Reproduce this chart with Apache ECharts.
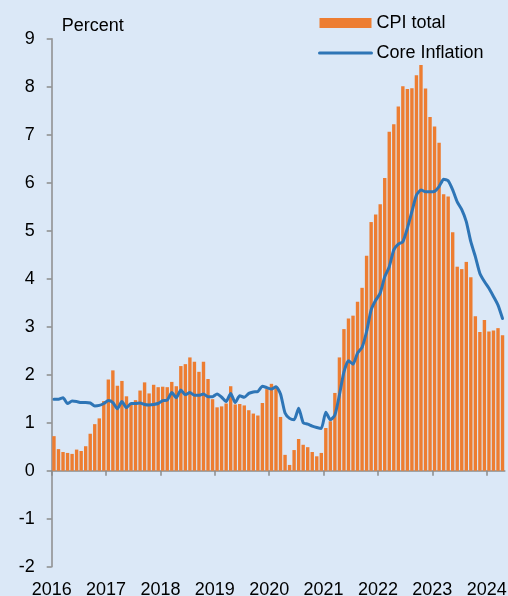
<!DOCTYPE html>
<html>
<head>
<meta charset="utf-8">
<script src="https://cdn.jsdelivr.net/npm/echarts@6/dist/echarts.min.js"></script>
<style>
html,body{margin:0;padding:0;background:#dbe8f7;}
#chart{width:508px;height:596px;}
</style>
</head>
<body>
<div id="chart"></div>
<script>
// Monthly data, Jan 2016 - Apr 2024
var startYear = 2016;
var yearLabels = ['2016','2017','2018','2019','2020','2021','2022','2023','2024'];
var seriesNames = ['CPI total', 'Core Inflation'];
var cpiTotal = [
  0.72, 0.45, 0.39, 0.37, 0.35, 0.44, 0.41, 0.51, 0.77, 0.97, 1.09, 1.45,
  1.90, 2.09, 1.77, 1.87, 1.55, 1.40, 1.47, 1.67, 1.84, 1.61, 1.79, 1.74,
  1.75, 1.74, 1.85, 1.76, 2.18, 2.22, 2.36, 2.27, 2.06, 2.27, 1.91, 1.49,
  1.32, 1.34, 1.40, 1.76, 1.38, 1.39, 1.36, 1.26, 1.19, 1.15, 1.41, 1.70,
  1.81, 1.75, 1.12, 0.33, 0.12, 0.43, 0.66, 0.54, 0.49, 0.39, 0.30, 0.37,
  0.89, 1.03, 1.62, 2.36, 2.95, 3.17, 3.23, 3.52, 3.81, 4.48, 5.18, 5.34,
  5.55, 6.10, 7.06, 7.22, 7.59, 8.01, 7.95, 7.97, 8.24, 8.45, 7.96, 7.37,
  7.17, 6.83, 5.76, 5.71, 4.97, 4.25, 4.20, 4.35, 4.03, 3.22, 2.89, 3.14,
  2.90, 2.92, 2.97, 2.82
];
var coreInflation = [
  1.49, 1.49, 1.52, 1.40, 1.45, 1.44, 1.42, 1.42, 1.41, 1.35, 1.36, 1.40,
  1.46, 1.42, 1.29, 1.44, 1.31, 1.40, 1.40, 1.41, 1.38, 1.37, 1.38, 1.40,
  1.46, 1.47, 1.63, 1.52, 1.68, 1.58, 1.63, 1.57, 1.57, 1.60, 1.54, 1.54,
  1.60, 1.53, 1.44, 1.61, 1.42, 1.56, 1.53, 1.61, 1.64, 1.65, 1.76, 1.73,
  1.70, 1.75, 1.60, 1.20, 1.09, 1.06, 1.30, 1.00, 0.97, 0.93, 0.90, 0.88,
  1.22, 1.06, 1.16, 1.58, 2.06, 2.29, 2.22, 2.45, 2.57, 2.90, 3.35, 3.55,
  3.70, 4.04, 4.25, 4.60, 4.72, 4.77, 5.05, 5.40, 5.74, 5.85, 5.81, 5.81,
  5.82, 5.92, 6.07, 6.04, 5.85, 5.60, 5.44, 5.19, 4.77, 4.46, 4.11, 3.94,
  3.80, 3.63, 3.45, 3.17
];
var yTicks = [-2,-1,0,1,2,3,4,5,6,7,8,9];

var nMonths = cpiTotal.length;
function monthX(i){ return startYear + (i + 0.5) / 12; }
var cpiData = cpiTotal.map(function(v,i){ return [monthX(i), v]; });
var coreData = coreInflation.map(function(v,i){ return [monthX(i), v]; });
var yearVals = yearLabels.map(function(s){ return +s; });
var xMax = startYear + nMonths / 12;

var axisColor = '#8c8c8c';
var font = 'Liberation Sans, Arial, sans-serif';

var chart = echarts.init(document.getElementById('chart'), null, {renderer:'canvas'});
chart.setOption({
  backgroundColor: '#dbe8f7',
  animation: false,
  textStyle: {fontFamily: font},
  grid: {left: 51.7, right: 3.2, top: 38.7, bottom: 29.3, outerBoundsMode: 'none'},
  legend: {
    orient: 'vertical', left: 313, top: 9,
    itemWidth: 52, itemHeight: 10, itemGap: 12,
    textStyle: {fontSize: 18, color: '#000', fontFamily: font},
    data: [
      {name: seriesNames[0], icon: 'rect'},
      {name: seriesNames[1], itemStyle: {opacity: 0}, lineStyle: {width: 3, color: '#2E75B6'}}
    ]
  },
  xAxis: [{
    type: 'value', min: startYear, max: xMax, position: 'bottom',
    axisLine: {show: false, onZero: false},
    axisTick: {show: false},
    splitLine: {show: false},
    axisLabel: {customValues: yearVals, fontSize: 18, color: '#000', margin: 14,
      formatter: function(v){ return String(Math.round(v)); }}
  }, {
    type: 'value', min: startYear, max: xMax, position: 'bottom',
    axisLine: {show: true, onZero: true, lineStyle: {color: axisColor, width: 1.5}},
    axisTick: {show: true, inside: false, length: 5, customValues: yearVals, lineStyle: {color: axisColor, width: 1.5}},
    axisLabel: {show: false},
    splitLine: {show: false}
  }],
  yAxis: {
    type: 'value', min: yTicks[0], max: yTicks[yTicks.length-1], interval: 1,
    name: 'Percent', nameLocation: 'end', nameGap: 4,
    nameTextStyle: {fontSize: 18, color: '#000', align: 'left', padding: [0,0,0,10], fontFamily: font},
    axisLine: {show: true, onZero: false, lineStyle: {color: axisColor, width: 1.5}},
    axisTick: {show: true, inside: false, length: 5, lineStyle: {color: axisColor, width: 1.5}},
    splitLine: {show: false},
    axisLabel: {fontSize: 18, color: '#000', margin: 17}
  },
  series: [{
    name: seriesNames[0], type: 'bar', xAxisIndex: 0, data: cpiData,
    barWidth: 3.4,
    itemStyle: {color: '#ED7D31'}
  }, {
    name: seriesNames[1], type: 'line', xAxisIndex: 0, data: coreData,
    symbol: 'none', smooth: 0.2, z: 5,
    lineStyle: {color: '#2E75B6', width: 3, cap: 'round', join: 'round'},
    itemStyle: {color: '#2E75B6'}
  }]
});
</script>
</body>
</html>
